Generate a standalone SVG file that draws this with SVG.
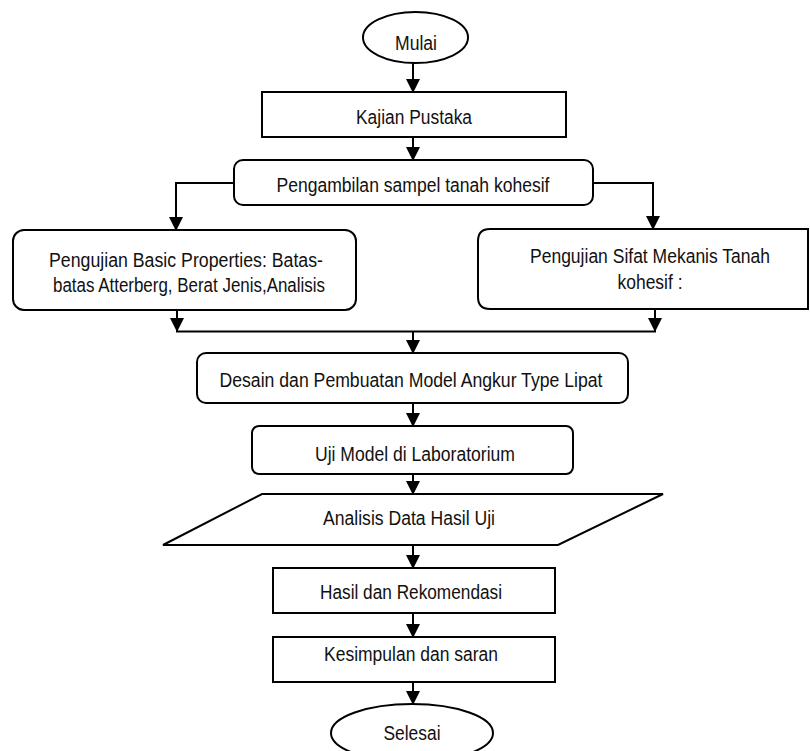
<svg xmlns="http://www.w3.org/2000/svg" width="810" height="751" viewBox="0 0 810 751">
<style>
.s{fill:#fff;stroke:#000;stroke-width:2}
.t{font-family:"Liberation Sans",Arial,sans-serif;font-size:20px;fill:#111;text-anchor:middle}
.c{fill:none;stroke:#000;stroke-width:2}
</style>
<defs>
<marker id="ah" viewBox="0 0 14 14" refX="13" refY="7" markerWidth="14" markerHeight="14" markerUnits="userSpaceOnUse" orient="auto">
<path d="M0,0 L14,7 L0,14 Z" fill="#000"/>
</marker>
</defs>
<rect width="810" height="751" fill="#fff"/>
<g id="connectors">
<line class="c" x1="413" y1="63" x2="413" y2="92" marker-end="url(#ah)"/>
<line class="c" x1="413" y1="137" x2="413" y2="160" marker-end="url(#ah)"/>
<polyline class="c" points="234,183 176,183 176,230" marker-end="url(#ah)"/>
<polyline class="c" points="593,183 653,183 653,229" marker-end="url(#ah)"/>
<line class="c" x1="177" y1="310" x2="177" y2="331" marker-end="url(#ah)"/>
<line class="c" x1="655" y1="309" x2="655" y2="331" marker-end="url(#ah)"/>
<line class="c" x1="176" y1="331.5" x2="656" y2="331.5"/>
<line class="c" x1="413" y1="331" x2="413" y2="353" marker-end="url(#ah)"/>
<line class="c" x1="413" y1="403" x2="413" y2="426" marker-end="url(#ah)"/>
<line class="c" x1="413" y1="474" x2="413" y2="494" marker-end="url(#ah)"/>
<line class="c" x1="413" y1="545" x2="413" y2="568" marker-end="url(#ah)"/>
<line class="c" x1="413" y1="613" x2="413" y2="637" marker-end="url(#ah)"/>
<line class="c" x1="413" y1="682" x2="413" y2="704" marker-end="url(#ah)"/>
</g>
<g id="mulai">
<ellipse class="s" cx="415.5" cy="37.5" rx="52.5" ry="25.5"/>
<text class="t" x="416" y="50" textLength="42" lengthAdjust="spacingAndGlyphs">Mulai</text>
</g>
<g id="kajian">
<rect class="s" x="262" y="92" width="304" height="45"/>
<text class="t" x="414" y="124" textLength="116" lengthAdjust="spacingAndGlyphs">Kajian Pustaka</text>
</g>
<g id="pengambilan">
<rect class="s" x="234" y="160" width="359" height="45" rx="9"/>
<text class="t" x="413" y="192" textLength="273" lengthAdjust="spacingAndGlyphs">Pengambilan sampel tanah kohesif</text>
</g>
<g id="basic">
<rect class="s" x="13" y="230" width="343" height="80" rx="11"/>
<text class="t" x="186" y="267" textLength="274" lengthAdjust="spacingAndGlyphs">Pengujian Basic Properties: Batas-</text>
<text class="t" x="189" y="292" textLength="272" lengthAdjust="spacingAndGlyphs">batas Atterberg, Berat Jenis,Analisis</text>
</g>
<g id="mekanis">
<path class="s" d="M490,229 H808 V309 H490 Q478,309 478,297 V241 Q478,229 490,229 Z"/>
<text class="t" x="650" y="263" textLength="240" lengthAdjust="spacingAndGlyphs">Pengujian Sifat Mekanis Tanah</text>
<text class="t" x="650" y="289" textLength="65" lengthAdjust="spacingAndGlyphs">kohesif :</text>
</g>
<g id="desain">
<rect class="s" x="197" y="353" width="431" height="50" rx="9"/>
<text class="t" x="411" y="387" textLength="383" lengthAdjust="spacingAndGlyphs">Desain dan Pembuatan Model Angkur Type Lipat</text>
</g>
<g id="uji">
<rect class="s" x="252" y="426" width="321" height="48" rx="7"/>
<text class="t" x="415" y="461" textLength="200" lengthAdjust="spacingAndGlyphs">Uji Model di Laboratorium</text>
</g>
<g id="analisis">
<polygon class="s" points="262,494 663,494 558,545 163,545"/>
<text class="t" x="409" y="525" textLength="172" lengthAdjust="spacingAndGlyphs">Analisis Data Hasil Uji</text>
</g>
<g id="hasil">
<rect class="s" x="273" y="568" width="282" height="45"/>
<text class="t" x="411" y="599" textLength="182" lengthAdjust="spacingAndGlyphs">Hasil dan Rekomendasi</text>
</g>
<g id="kesimpulan">
<rect class="s" x="273" y="637" width="282" height="45"/>
<text class="t" x="411" y="661" textLength="174" lengthAdjust="spacingAndGlyphs">Kesimpulan dan saran</text>
</g>
<g id="selesai">
<ellipse class="s" cx="412" cy="733" rx="81" ry="29"/>
<text class="t" x="412" y="740" textLength="57" lengthAdjust="spacingAndGlyphs">Selesai</text>
</g>
</svg>
